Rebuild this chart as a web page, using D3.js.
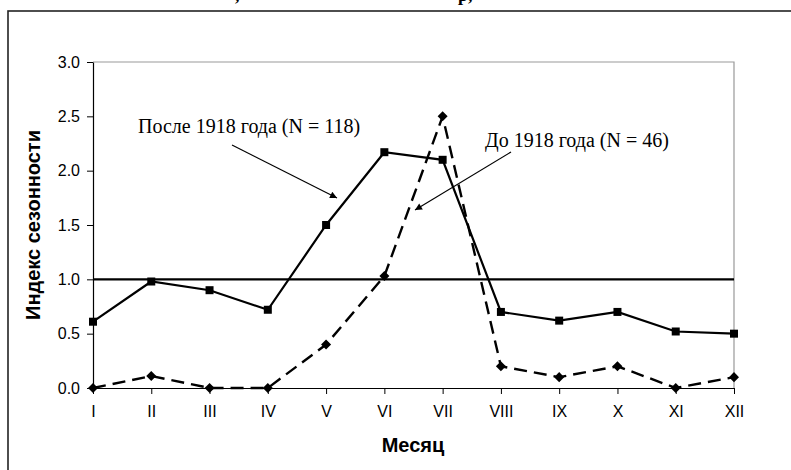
<!DOCTYPE html>
<html>
<head>
<meta charset="utf-8">
<script src="https://cdn.jsdelivr.net/npm/d3@7"></script>
<style>
  body { margin: 0; background: #fff; }
  svg { display: block; }
</style>
</head>
<body>
<div id="chart"></div>
<script>
// data
const months = ["I", "II", "III", "IV", "V", "VI", "VII", "VIII", "IX", "X", "XI", "XII"];
const after1918 = [0.61, 0.98, 0.90, 0.72, 1.50, 2.17, 2.10, 0.70, 0.62, 0.70, 0.52, 0.50];
const before1918 = [0.00, 0.11, 0.00, 0.00, 0.40, 1.03, 2.50, 0.20, 0.10, 0.20, 0.00, 0.10];
const yTicks = [0, 0.5, 1, 1.5, 2, 2.5, 3];
const baseline = 1.0;

const W = 791, H = 470;
const margin = { top: 62, right: 57, bottom: 82, left: 93 };
const width = W - margin.left - margin.right,
  height = H - margin.top - margin.bottom;

const root = d3.select("#chart").append("svg")
  .attr("width", W)
  .attr("height", H);

// cut title fragments at the very top (the title sits above the picture)
root.append("g")
  .style("font-family", "'Liberation Serif', serif")
  .style("font-weight", "bold")
  .style("font-size", "18px")
  .selectAll("text")
  .data([{ x: 235, t: "," }, { x: 458, t: "р," }])
  .join("text")
  .attr("x", (d) => d.x)
  .attr("y", 1)
  .text((d) => d.t);

// outer frame
root.append("rect")
  .attr("x", 8)
  .attr("y", 11)
  .attr("width", 800)
  .attr("height", 500)
  .attr("fill", "none")
  .attr("stroke", "#222")
  .attr("stroke-width", 1.6);

const svg = root.append("g")
  .attr("transform", `translate(${margin.left},${margin.top})`);

// scales
const x = d3.scalePoint().domain(months).range([0, width]);
const y = d3.scaleLinear().domain([0, 3]).range([height, 0]);

// plot area border (grey top/right)
svg.append("path")
  .attr("d", `M0,0H${width}V${height}`)
  .attr("fill", "none")
  .attr("stroke", "#999")
  .attr("stroke-width", 1.2);

// axes
const yAxis = svg.append("g")
  .call(d3.axisLeft(y).tickValues(yTicks).tickFormat(d3.format(".1f")).tickSize(6).tickSizeOuter(0));
yAxis.select(".domain").attr("stroke", "#000").attr("stroke-width", 1.2);
yAxis.selectAll("text")
  .style("font-family", "'Liberation Sans', Arial, sans-serif")
  .style("font-size", "16px")
  .attr("x", -13)
  .attr("fill", "#000");

const xAxis = svg.append("g")
  .attr("transform", `translate(0,${height})`)
  .call(d3.axisBottom(x).tickSize(6).tickSizeOuter(0));
xAxis.select(".domain").attr("stroke", "#000").attr("stroke-width", 1.2);
xAxis.selectAll("text")
  .style("font-family", "'Liberation Sans', Arial, sans-serif")
  .style("font-size", "16px")
  .attr("y", 18)
  .attr("fill", "#000");

// axis titles
root.append("text")
  .attr("x", 413)
  .attr("y", 452)
  .attr("text-anchor", "middle")
  .style("font-family", "'Liberation Sans', Arial, sans-serif")
  .style("font-weight", "bold")
  .style("font-size", "20px")
  .text("Месяц");

root.append("text")
  .attr("transform", "translate(40,225) rotate(-90)")
  .attr("text-anchor", "middle")
  .style("font-family", "'Liberation Sans', Arial, sans-serif")
  .style("font-weight", "bold")
  .style("font-size", "20px")
  .text("Индекс сезонности");

// reference line at 1.0
svg.append("line")
  .attr("x1", 0)
  .attr("x2", width)
  .attr("y1", y(baseline))
  .attr("y2", y(baseline))
  .attr("stroke", "#000")
  .attr("stroke-width", 2.2);

const line = d3.line()
  .x((d, i) => x(months[i]))
  .y((d) => y(d));

// before 1918 (dashed, diamonds)
svg.append("path")
  .datum(before1918)
  .attr("fill", "none")
  .attr("stroke", "#000")
  .attr("stroke-width", 2.4)
  .attr("stroke-dasharray", "13,7")
  .attr("d", line);

svg.selectAll(".diamond")
  .data(before1918)
  .join("path")
  .attr("class", "diamond")
  .attr("transform", (d, i) => `translate(${x(months[i])},${y(d)})`)
  .attr("d", d3.symbol(d3.symbolDiamond2, 64))
  .attr("fill", "#000");

// after 1918 (solid, squares)
svg.append("path")
  .datum(after1918)
  .attr("fill", "none")
  .attr("stroke", "#000")
  .attr("stroke-width", 2.2)
  .attr("d", line);

svg.selectAll(".square")
  .data(after1918)
  .join("rect")
  .attr("class", "square")
  .attr("x", (d, i) => x(months[i]) - 4)
  .attr("y", (d) => y(d) - 4)
  .attr("width", 8)
  .attr("height", 8)
  .attr("fill", "#000");

// annotations
root.append("defs").append("marker")
  .attr("id", "arrow")
  .attr("viewBox", "0 0 10 10")
  .attr("refX", 10)
  .attr("refY", 5)
  .attr("markerWidth", 9)
  .attr("markerHeight", 7)
  .attr("markerUnits", "userSpaceOnUse")
  .attr("orient", "auto")
  .append("path")
  .attr("d", "M0,0L10,5L0,10z")
  .attr("fill", "#000");

const notes = [
  { text: "После 1918 года (N = 118)", tx: 138, ty: 133, x1: 232, y1: 145, x2: 337, y2: 198 },
  { text: "До 1918 года (N = 46)", tx: 485, ty: 147, x1: 511, y1: 152, x2: 415, y2: 210 }
];

const ann = root.append("g");
ann.selectAll("text")
  .data(notes)
  .join("text")
  .attr("x", (d) => d.tx)
  .attr("y", (d) => d.ty)
  .style("font-family", "'Liberation Serif', 'Times New Roman', serif")
  .style("font-size", "20px")
  .text((d) => d.text);

ann.selectAll("line")
  .data(notes)
  .join("line")
  .attr("x1", (d) => d.x1)
  .attr("y1", (d) => d.y1)
  .attr("x2", (d) => d.x2)
  .attr("y2", (d) => d.y2)
  .attr("stroke", "#000")
  .attr("stroke-width", 1.2)
  .attr("marker-end", "url(#arrow)");
</script>
</body>
</html>
